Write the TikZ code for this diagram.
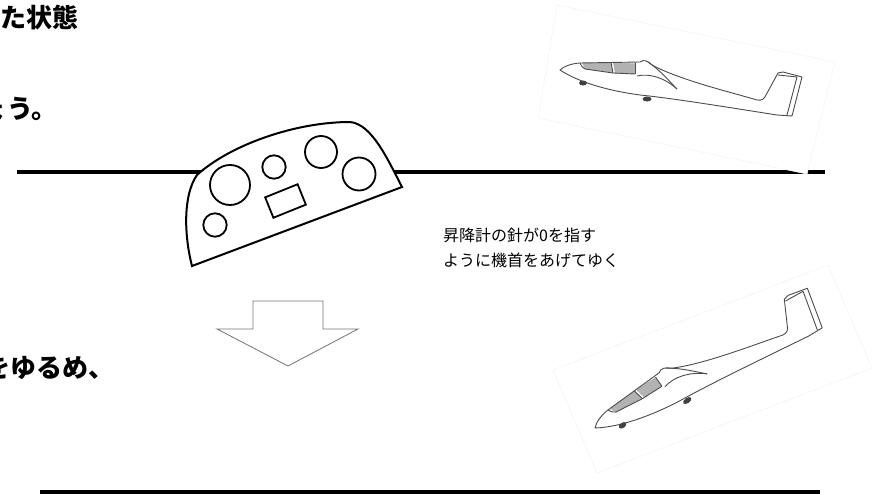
\documentclass[tikz,border=0pt]{standalone}
\usepackage{fontspec}
\newfontfamily\jp{Noto Sans CJK JP}
\tikzset{horizon/.style={line width=4.5pt},
         panel/.style={draw,line width=2pt,fill=white},
         gauge/.style={draw,line width=1.8pt},
         photo/.style={draw=black!4,fill=white,line width=0.6pt},
         gline/.style={draw=black!70,line width=0.9pt,line join=round},
         window/.style={fill=black!30},
         wheel/.style={fill=black!75},
         bigarrow/.style={draw=black!55,fill=white,line width=0.8pt},
         heading/.style={font=\jp\bfseries\fontsize{26}{30}\selectfont,inner sep=0pt},
         note/.style={font=\jp\fontsize{16}{25}\selectfont,inner sep=0pt,align=left},
         glider/.pic={
            \fill[window] (22,-7) -- (51,-7.5) -- (53,3) -- (25,-1) -- cycle;
            \fill[window] (53,-7.5) -- (75,-6.5) -- (75,4) -- (55,3) -- cycle;
            \fill[wheel] (23,13) ellipse (4 and 2.5);
            \fill[wheel] (87,29) ellipse (4.5 and 2.5);
            \draw[gline] (0,0) .. controls (4,-4) and (12,-6.5) .. (20,-7) -- (80,-8)
                .. controls (84,-11) and (88,-9) .. (92,-5)
                .. controls (120,10) and (170,22) .. (197,30)
                .. controls (202,31) and (204,29) .. (206,25) -- (218,3) -- (223,2)
                -- (242,7) -- (232,46) -- (217,45)
                .. controls (160,36) and (110,28) .. (80,25)
                .. controls (50,21) and (20,13) .. (0,0) -- cycle;
            \draw[gline] (20,-7) .. controls (22,-3) .. (25,-1) -- (53,3) -- (75,4);
            \draw[gline] (51,-7.5) -- (53,3);
            \draw[gline] (75,-6.5) -- (75,4);
            \draw[gline] (88,-8) .. controls (100,0) and (110,12) .. (117,19);
            \draw[gline] (77,6) .. controls (90,3) and (105,8) .. (117,19);
            \draw[gline] (218,5) -- (237,7) -- (227,45);
         }}

\begin{document}
\begin{tikzpicture}[x=1pt,y=-1pt]
        \useasboundingbox (0,0) rectangle (875,495);

        \draw[horizon] (17,172) -- (825,172);
        \draw[horizon] (40,492) -- (820,492);

        % glider photos
        \filldraw[photo] (557,5) -- (835,62) -- (807,174) -- (538,118) -- cycle;
        \pic at (560,70) {glider};
        \filldraw[photo] (553,370) -- (828,265) -- (872,368) -- (597,473) -- cycle;
        \pic[rotate=35,scale=1.05] at (595,428) {glider};

        % instrument panel
        \draw[panel] (192,266) .. controls (184,235) and (183,195) .. (197,175)
            .. controls (230,145) and (295,122) .. (350,122)
            .. controls (372,124) and (388,160) .. (402,187) -- cycle;
        \draw[gauge] (230,185) circle (20);
        \draw[gauge] (274,167) circle (11.7);
        \draw[gauge] (321,152) circle (16);
        \draw[gauge] (359,174) circle (16.5);
        \draw[gauge] (215,225) circle (11.7);
        \draw[gauge,rotate around={22:(285.5,201)}] (268,190) rectangle (303,212);

        \draw[bigarrow] (253,301) -- (323,301) -- (323,329) -- (358,329)
            -- (288,366) -- (217,329) -- (253,329) -- cycle;

        \node[heading,anchor=base west](state)at(0,28){た状態};
        \node[heading,anchor=base west](keep)at(-19,118){ょう。};
        \node[heading,anchor=base west](ease)at(-16,377){をゆるめ、};
        \node[note,anchor=north west](vsi)at(443,228){昇降計の針が0を指す\\ように機首をあげてゆく};
\end{tikzpicture}
\end{document}
